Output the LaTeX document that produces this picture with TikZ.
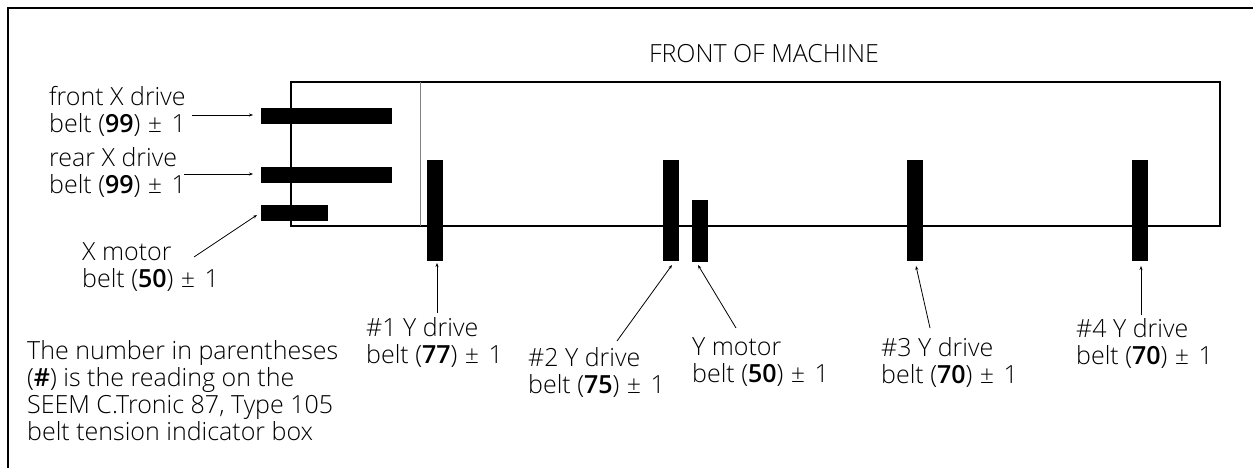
\documentclass[tikz,border=0pt]{standalone}
\usepackage{fontspec}
\setmainfont{Open Sans Light}[BoldFont={Open Sans Semibold}]
\usetikzlibrary{positioning, arrows.meta}
\newcommand{\tol}{\kern1pt±\kern3pt\ 1}

\begin{document}
\begin{tikzpicture}[x=1pt, y=-1pt,
    belt/.style={fill=black, inner sep=0pt},
    note/.style={align=left, anchor=north west, inner sep=0pt, font=\fontsize{25}{27}\selectfont},
    lead/.style={-{Stealth[length=4pt, width=3pt]}, line width=0.8pt}]
  \useasboundingbox (0,0) rectangle (1253,468);
  \draw[line width=2.3pt] (8,468) -- (8,8) -- (1253,8);

  % machine outline
  \draw[line width=2pt] (291,82) rectangle (1220,226);
  \draw[line width=1pt, gray] (420,82) -- (420,226);
  \node[note, anchor=center] (front) at (764,54) {FRONT OF MACHINE};

  % X belts
  \node[belt, minimum width=131pt, minimum height=16pt] (xfront) at (326.5,116) {};
  \node[belt, minimum width=131pt, minimum height=16pt] (xrear) at (326.5,175) {};
  \node[belt, minimum width=67pt, minimum height=16pt] (xmotor) at (294.5,213) {};

  % Y belts
  \node[belt, minimum width=16pt, minimum height=100pt] (yone) at (435,210.5) {};
  \node[belt, minimum width=16pt, minimum height=100pt] (ytwo) at (671,210.5) {};
  \node[belt, minimum width=16pt, minimum height=62pt] (ymotor) at (700,231) {};
  \node[belt, minimum width=16pt, minimum height=100pt] (ythree) at (915,210.5) {};
  \node[belt, minimum width=16pt, minimum height=100pt] (yfour) at (1140,210.5) {};

  % labels
  \node[note] (lfront) at (49,86) {front X drive\\belt (\textbf{99}) \tol};
  \node[note] (lrear) at (49,147) {rear X drive\\belt (\textbf{99}) \tol};
  \node[note] (lmotor) at (82,242) {X motor\\belt (\textbf{50}) \tol};
  \node[note] (lone) at (366,317) {\#1 Y drive\\belt (\textbf{77}) \tol};
  \node[note] (ltwo) at (528,347) {\#2 Y drive\\belt (\textbf{75}) \tol};
  \node[note] (lymotor) at (692,337) {Y motor\\belt (\textbf{50}) \tol};
  \node[note] (lthree) at (881,337) {\#3 Y drive\\belt (\textbf{70}) \tol};
  \node[note] (lfour) at (1076,318) {\#4 Y drive\\belt (\textbf{70}) \tol};
  \node[note] (remark) at (27,340) {The number in parentheses\\(\textbf{\#}) is the reading on the\\SEEM C.Tronic 87, Type 105\\belt tension indicator box};

  % leaders
  \coordinate (pfront) at (192,115);
  \coordinate (prear) at (184,174);
  \coordinate (pmotor) at (194,257);
  \coordinate (pone) at (437,313);
  \coordinate (ptwo) at (617,341);
  \coordinate (pymotor) at (736,328);
  \coordinate (pthree) at (930,328);
  \coordinate (pfour) at (1141,315);
  \draw[lead] (pfront) -- (253,115);
  \draw[lead] (prear) -- (253,174);
  \draw[lead] (pmotor) -- (257,215);
  \draw[lead] (pone) -- (437,263);
  \draw[lead] (ptwo) -- (672,265);
  \draw[lead] (pymotor) -- (698,265);
  \draw[lead] (pthree) -- (916,266);
  \draw[lead] (pfour) -- (1141,266);
\end{tikzpicture}
\end{document}
